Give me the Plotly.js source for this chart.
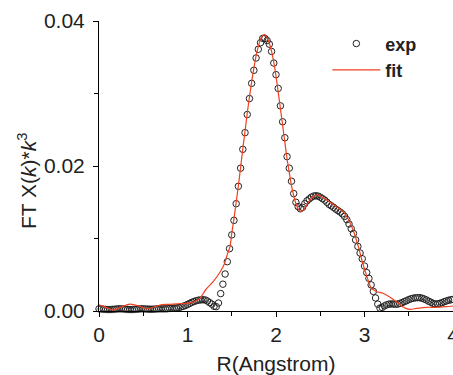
<!DOCTYPE html>
<html>
<head>
<meta charset="utf-8">
<script src="https://cdn.plot.ly/plotly-3.0.1.min.js"></script>
<style>html,body{margin:0;padding:0;background:#fff;}#chart{width:453px;height:375px;}</style>
</head>
<body>
<div id="chart"></div>
<script>
// Experimental FT magnitude (open circles)
const expR = [0,0.025,0.05,0.075,0.1,0.125,0.15,0.175,0.2,0.225,0.25,0.275,0.3,0.325,0.35,0.375,0.4,0.425,0.45,0.475,
0.5,0.525,0.55,0.575,0.6,0.625,0.65,0.675,0.7,0.725,0.75,0.775,0.8,0.825,0.85,0.875,0.9,0.925,0.95,0.975,
1,1.025,1.05,1.075,1.1,1.125,1.15,1.175,1.2,1.225,1.25,1.275,1.3,1.325,1.35,1.375,1.4,1.425,1.45,1.475,
1.5,1.525,1.55,1.575,1.6,1.625,1.65,1.675,1.7,1.725,1.75,1.775,1.8,1.825,1.85,1.875,1.9,1.925,1.95,1.975,
2,2.025,2.05,2.075,2.1,2.125,2.15,2.175,2.2,2.225,2.25,2.275,2.3,2.325,2.35,2.375,2.4,2.425,2.45,2.475,
2.5,2.525,2.55,2.575,2.6,2.625,2.65,2.675,2.7,2.725,2.75,2.775,2.8,2.825,2.85,2.875,2.9,2.925,2.95,2.975,
3,3.025,3.05,3.075,3.1,3.125,3.15,3.175,3.2,3.225,3.25,3.275,3.3,3.325,3.35,3.375,3.4,3.425,3.45,3.475,
3.5,3.525,3.55,3.575,3.6,3.625,3.65,3.675,3.7,3.725,3.75,3.775,3.8,3.825,3.85,3.875,3.9,3.925,3.95,3.975,4];
const expY = [0.00030,0.00028,0.00025,0.00022,0.00020,0.00020,0.00022,0.00025,0.00028,0.00030,
0.00030,0.00028,0.00025,0.00022,0.00020,0.00020,0.00022,0.00025,0.00028,0.00030,
0.00030,0.00028,0.00026,0.00025,0.00025,0.00026,0.00028,0.00030,0.00030,0.00030,
0.00030,0.00032,0.00035,0.00038,0.00040,0.00042,0.00048,0.00055,0.00065,0.00075,
0.00090,0.00105,0.00120,0.00132,0.00142,0.00150,0.00153,0.00155,0.00152,0.00138,
0.00115,0.00095,0.00065,0.00060,0.00110,0.00240,0.00370,0.00510,0.00680,0.00860,
0.01050,0.01250,0.01480,0.01720,0.01970,0.02230,0.02460,0.02710,0.02930,0.03140,
0.03320,0.03490,0.03610,0.03700,0.03760,0.03760,0.03730,0.03680,0.03580,0.03420,
0.03260,0.03070,0.02830,0.02610,0.02390,0.02130,0.01970,0.01790,0.01620,0.01500,
0.01440,0.01410,0.01430,0.01480,0.01520,0.01545,0.01570,0.01585,0.01590,0.01585,
0.01570,0.01550,0.01530,0.01500,0.01470,0.01450,0.01430,0.01405,0.01385,0.01365,
0.01340,0.01305,0.01260,0.01200,0.01135,0.01070,0.00980,0.00890,0.00800,0.00720,
0.00620,0.00530,0.00450,0.00360,0.00270,0.00180,0.00095,0.00040,0.00050,0.00070,
0.00085,0.00095,0.00097,0.00097,0.00093,0.00095,0.00105,0.00115,0.00130,0.00142,
0.00157,0.00168,0.00176,0.00182,0.00184,0.00183,0.00177,0.00165,0.00152,0.00135,
0.00120,0.00105,0.00097,0.00098,0.00105,0.00115,0.00128,0.00138,0.00148,0.00155,0.00160];

// Fit (red line)
const fitR = [0,0.08,0.16,0.25,0.35,0.45,0.54,0.62,0.69,0.78,0.9,0.99,1.05,1.1,1.14,1.21,1.29,1.37,1.42,1.45,
1.48,1.5,1.525,1.55,1.575,1.6,1.625,1.65,1.675,1.7,1.725,1.75,1.775,1.8,1.825,1.85,1.875,1.9,1.925,1.95,
1.975,2,2.025,2.05,2.075,2.1,2.125,2.15,2.175,2.2,2.225,2.25,2.28,2.31,2.34,2.38,2.42,2.46,2.5,2.55,
2.61,2.68,2.76,2.81,2.87,2.93,2.98,3.04,3.07,3.13,3.21,3.28,3.36,3.43,3.51,3.59,3.7,3.81,3.92,4];
const fitY = [0.00085,0.00050,0.00015,0.00055,0.00095,0.00070,0.00030,0.00055,0.00083,0.00092,
0.00100,0.00106,0.00115,0.00140,0.00175,0.00300,0.00404,0.00542,0.00658,0.00782,
0.00887,0.01070,0.01270,0.01500,0.01730,0.01980,0.02240,0.02480,0.02730,0.02950,
0.03160,0.03350,0.03520,0.03650,0.03750,0.03800,0.03810,0.03770,0.03690,0.03580,
0.03430,0.03240,0.03020,0.02790,0.02560,0.02330,0.02100,0.01910,0.01730,0.01590,
0.01480,0.01410,0.01375,0.01395,0.01450,0.01525,0.01575,0.01600,0.01590,0.01550,
0.01500,0.01440,0.01370,0.01280,0.01120,0.00890,0.00660,0.00430,0.00330,0.00270,
0.00245,0.00197,0.00128,0.00060,0.00023,0.00037,0.00051,0.00051,0.00060,0.00069];

const xTicks = [0,1,2,3,4];
const yTicks = [0,0.02,0.04];

const FONT = 'Liberation Sans, Arial, Helvetica, sans-serif';
const TXT = '#222222';

const traces = [
  {
    x: expR, y: expY, name: 'exp', type: 'scatter', mode: 'markers',
    cliponaxis: false,
    marker: {symbol: 'circle-open', size: 6.5, color: '#222222', line: {width: 1, color: '#222222'}}
  },
  {
    x: fitR, y: fitY, name: 'fit', type: 'scatter', mode: 'lines',
    cliponaxis: false,
    line: {color: '#f0401e', width: 1.2, shape: 'spline', smoothing: 0.8}
  }
];

const layout = {
  width: 453, height: 375,
  margin: {l: 99, r: 0, t: 21, b: 64, pad: 0},
  paper_bgcolor: '#ffffff', plot_bgcolor: '#ffffff',
  font: {family: FONT, size: 21, color: TXT},
  showlegend: true,
  legend: {
    x: 0.645, y: 0.985, xanchor: 'left', yanchor: 'top',
    bgcolor: 'rgba(0,0,0,0)', borderwidth: 0,
    font: {family: FONT, size: 18, color: TXT, weight: 'bold'},
    itemwidth: 48, tracegroupgap: 0
  },
  xaxis: {
    range: [0, 4], tickvals: xTicks, ticktext: xTicks.map(String),
    ticklabeloverflow: 'allow',
    showgrid: false, zeroline: false,
    showline: true, linecolor: '#000', linewidth: 1,
    ticks: 'outside', ticklen: 5, tickwidth: 1, tickcolor: '#000',
    minor: {dtick: 0.5, ticks: 'outside', ticklen: 4, tickwidth: 1, tickcolor: '#000', showgrid: false},
    tickfont: {family: FONT, size: 21, color: TXT},
    title: {text: 'R(Angstrom)', font: {family: FONT, size: 21, color: TXT}, standoff: 14}
  },
  yaxis: {
    range: [0, 0.04], tickvals: yTicks, ticktext: yTicks.map(v => v.toFixed(2)),
    showgrid: false, zeroline: false,
    showline: true, linecolor: '#000', linewidth: 1,
    ticks: 'outside', ticklen: 5, tickwidth: 1, tickcolor: '#000',
    minor: {dtick: 0.01, ticks: 'outside', ticklen: 4, tickwidth: 1, tickcolor: '#000', showgrid: false},
    tickfont: {family: FONT, size: 21, color: TXT},
    ticklabelstandoff: 4
  },
  annotations: [
    {
      text: 'FT X(<i>k</i>)*<i>k</i><sup>3</sup>',
      xref: 'paper', yref: 'paper',
      x: (27 - 99) / 354, y: (311 - 181) / 290,
      xanchor: 'center', yanchor: 'middle',
      textangle: -90, showarrow: false,
      font: {family: FONT, size: 21, color: TXT}
    }
  ]
};

Plotly.newPlot('chart', traces, layout, {staticPlot: true, displayModeBar: false});
</script>
</body>
</html>
